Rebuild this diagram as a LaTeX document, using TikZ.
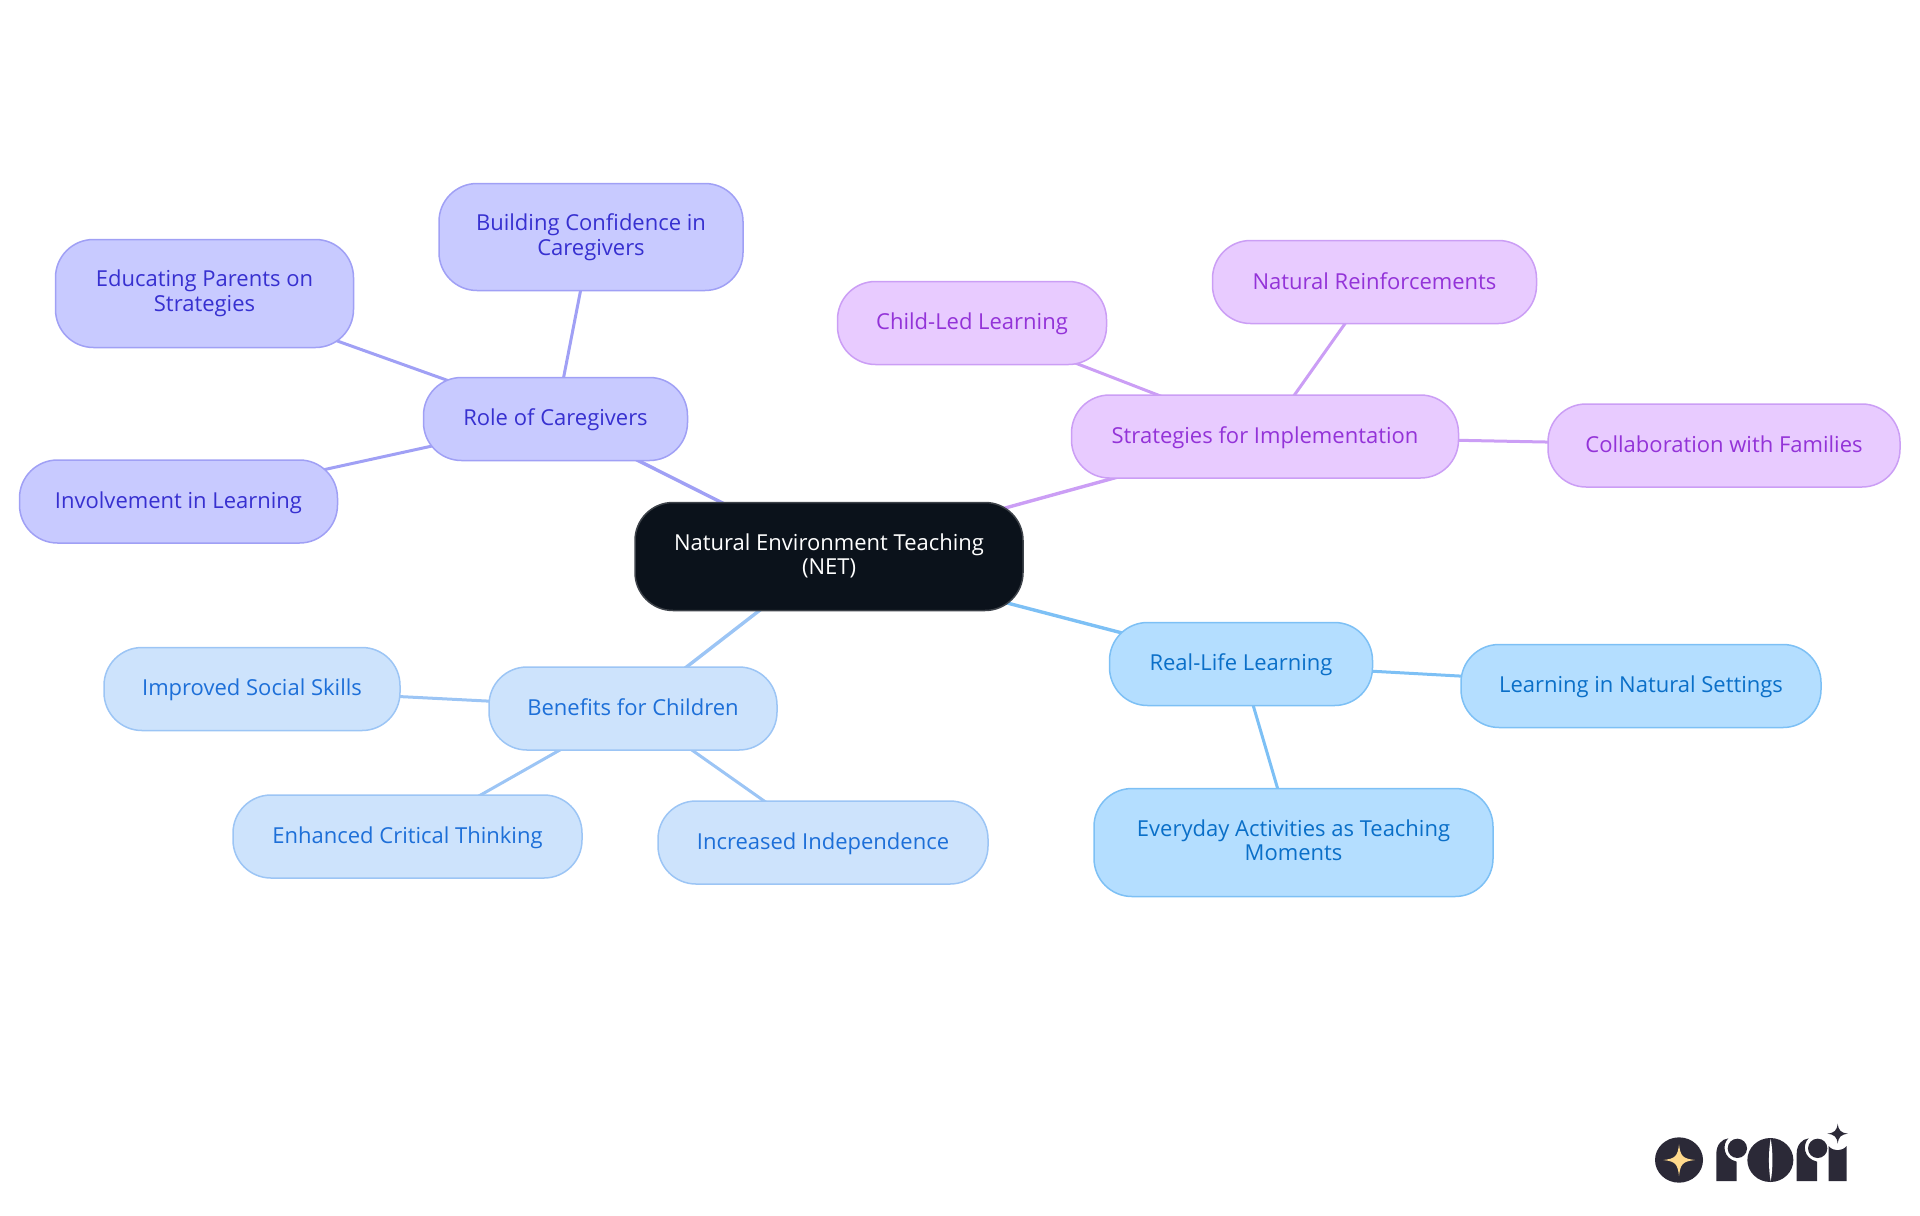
\documentclass[tikz,border=0pt]{standalone}
\usepackage{fontspec}
\setmainfont{Open Sans}
\usetikzlibrary{backgrounds}
\definecolor{rootfill}{HTML}{0B121B}
\definecolor{rootline}{HTML}{3D4249}
\definecolor{indigofill}{HTML}{C8CAFF}
\definecolor{indigoline}{HTML}{A0A0F5}
\definecolor{indigotext}{HTML}{3730D0}
\definecolor{purplefill}{HTML}{E8CBFF}
\definecolor{purpleline}{HTML}{CB9EF5}
\definecolor{purpletext}{HTML}{9333D8}
\definecolor{skyfill}{HTML}{B4DEFF}
\definecolor{skyline}{HTML}{7DC0F5}
\definecolor{skytext}{HTML}{0A6FC8}
\definecolor{bluefill}{HTML}{CDE3FC}
\definecolor{blueline}{HTML}{9CC5F5}
\definecolor{bluetext}{HTML}{1D6FD8}
\definecolor{logodark}{HTML}{2B2937}
\definecolor{logostar}{HTML}{FFD98C}

\begin{document}
\begin{tikzpicture}[x=0.5pt,y=-0.5pt,
										mapnode/.style={draw,rounded corners=19pt,inner sep=0pt,outer sep=0pt,line width=0.75pt,align=center,
																		font=\fontsize{11}{12.25}\selectfont,
																		execute at begin node={\rule[-2.5pt]{0pt}{12pt}}},
										rootbox/.style={mapnode,fill=rootfill,draw=rootline,text=white},
										indigobox/.style={mapnode,fill=indigofill,draw=indigoline,text=indigotext},
										purplebox/.style={mapnode,fill=purplefill,draw=purpleline,text=purpletext},
										skybox/.style={mapnode,fill=skyfill,draw=skyline,text=skytext},
										bluebox/.style={mapnode,fill=bluefill,draw=blueline,text=bluetext},
										mainedge/.style={line width=1.7pt},
										leafedge/.style={line width=1.5pt}]
	\useasboundingbox (0,0) rectangle (1920,1215);

	\node [rootbox,minimum width=194pt,minimum height=54pt] (root) at (829,556.5) {Natural Environment Teaching\\(NET)};

	\node [indigobox,minimum width=132pt,minimum height=41.5pt] (role) at (555.5,419) {Role of Caregivers};
	\node [indigobox,minimum width=152pt,minimum height=53.5pt] (confidence) at (591,237) {Building Confidence in\\Caregivers};
	\node [indigobox,minimum width=149pt,minimum height=54pt] (educating) at (204.5,293.5) {Educating Parents on\\Strategies};
	\node [indigobox,minimum width=159pt,minimum height=41.5pt] (involvement) at (178.5,501.5) {Involvement in Learning};

	\node [purplebox,minimum width=193.5pt,minimum height=41.5pt] (strategies) at (1265,436.5) {Strategies for Implementation};
	\node [purplebox,minimum width=134.5pt,minimum height=41.5pt] (childled) at (972,323) {Child-Led Learning};
	\node [purplebox,minimum width=162pt,minimum height=41.5pt] (reinforce) at (1374.5,282) {Natural Reinforcements};
	\node [purplebox,minimum width=176pt,minimum height=41.5pt] (families) at (1724,445.5) {Collaboration with Families};

	\node [skybox,minimum width=131.5pt,minimum height=41.5pt] (reallife) at (1241,664) {Real-Life Learning};
	\node [skybox,minimum width=180pt,minimum height=41.5pt] (settings) at (1641,686) {Learning in Natural Settings};
	\node [skybox,minimum width=199.5pt,minimum height=54pt] (everyday) at (1293.5,842.5) {Everyday Activities as Teaching\\Moments};

	\node [bluebox,minimum width=144pt,minimum height=41.5pt] (benefits) at (633,708.5) {Benefits for Children};
	\node [bluebox,minimum width=148pt,minimum height=41.5pt] (social) at (252,689) {Improved Social Skills};
	\node [bluebox,minimum width=174.5pt,minimum height=41.5pt] (thinking) at (407.5,836.5) {Enhanced Critical Thinking};
	\node [bluebox,minimum width=165pt,minimum height=41.5pt] (independence) at (823,842.5) {Increased Independence};

	\begin{scope}[on background layer]
		\draw [mainedge,indigoline] (root.center) -- (role.center);
		\draw [leafedge,indigoline] (role.center) -- (confidence.center);
		\draw [leafedge,indigoline] (role.center) -- (educating.center);
		\draw [leafedge,indigoline] (role.center) -- (involvement.center);
		\draw [mainedge,purpleline] (root.center) -- (strategies.center);
		\draw [leafedge,purpleline] (strategies.center) -- (childled.center);
		\draw [leafedge,purpleline] (strategies.center) -- (reinforce.center);
		\draw [leafedge,purpleline] (strategies.center) -- (families.center);
		\draw [mainedge,skyline] (root.center) -- (reallife.center);
		\draw [leafedge,skyline] (reallife.center) -- (settings.center);
		\draw [leafedge,skyline] (reallife.center) -- (everyday.center);
		\draw [mainedge,blueline] (root.center) -- (benefits.center);
		\draw [leafedge,blueline] (benefits.center) -- (social.center);
		\draw [leafedge,blueline] (benefits.center) -- (thinking.center);
		\draw [leafedge,blueline] (benefits.center) -- (independence.center);
	\end{scope}

	% logo, in thirds of a pixel from its corner
	\begin{scope}[shift={(1600,1090)},x=0.16667pt,y=-0.16667pt]
		\fill [logodark] (237,210) ellipse [x radius=72,y radius=68];
		\fill [logostar] (237,163) .. controls (241,198) and (248,206) .. (285,210) .. controls (248,214) and (241,222) .. (237,258) .. controls (233,222) and (226,214) .. (190,210) .. controls (226,206) and (233,198) .. (237,163) -- cycle;
		% first r
		\fill [logodark] (349,273) -- (349,190) .. controls (349,165) and (365,147) .. (385,145) .. controls (366,162) and (368,205) .. (410,215) -- (410,273) -- cycle;
		\fill [logodark] (412,175) circle [radius=29];
		% o
		\fill [logodark] (511,210) ellipse [x radius=69,y radius=66];
		\fill [white] (512,146) .. controls (505,185) and (505,235) .. (512,274) .. controls (519,235) and (519,185) .. (512,146) -- cycle;
		% second r
		\fill [logodark] (590,273) -- (590,190) .. controls (590,165) and (606,147) .. (626,145) .. controls (607,162) and (609,205) .. (651,215) -- (651,273) -- cycle;
		\fill [logodark] (653,175) circle [radius=29];
		% i
		\fill [logodark] (686,273) -- (686,168) .. controls (700,185) and (725,185) .. (740,168) -- (740,273) -- cycle;
		\fill [logodark] (713,101) .. controls (716,122) and (722,128) .. (744,131) .. controls (722,134) and (716,140) .. (713,161) .. controls (710,140) and (704,134) .. (682,131) .. controls (704,128) and (710,122) .. (713,101) -- cycle;
	\end{scope}
\end{tikzpicture}
\end{document}
